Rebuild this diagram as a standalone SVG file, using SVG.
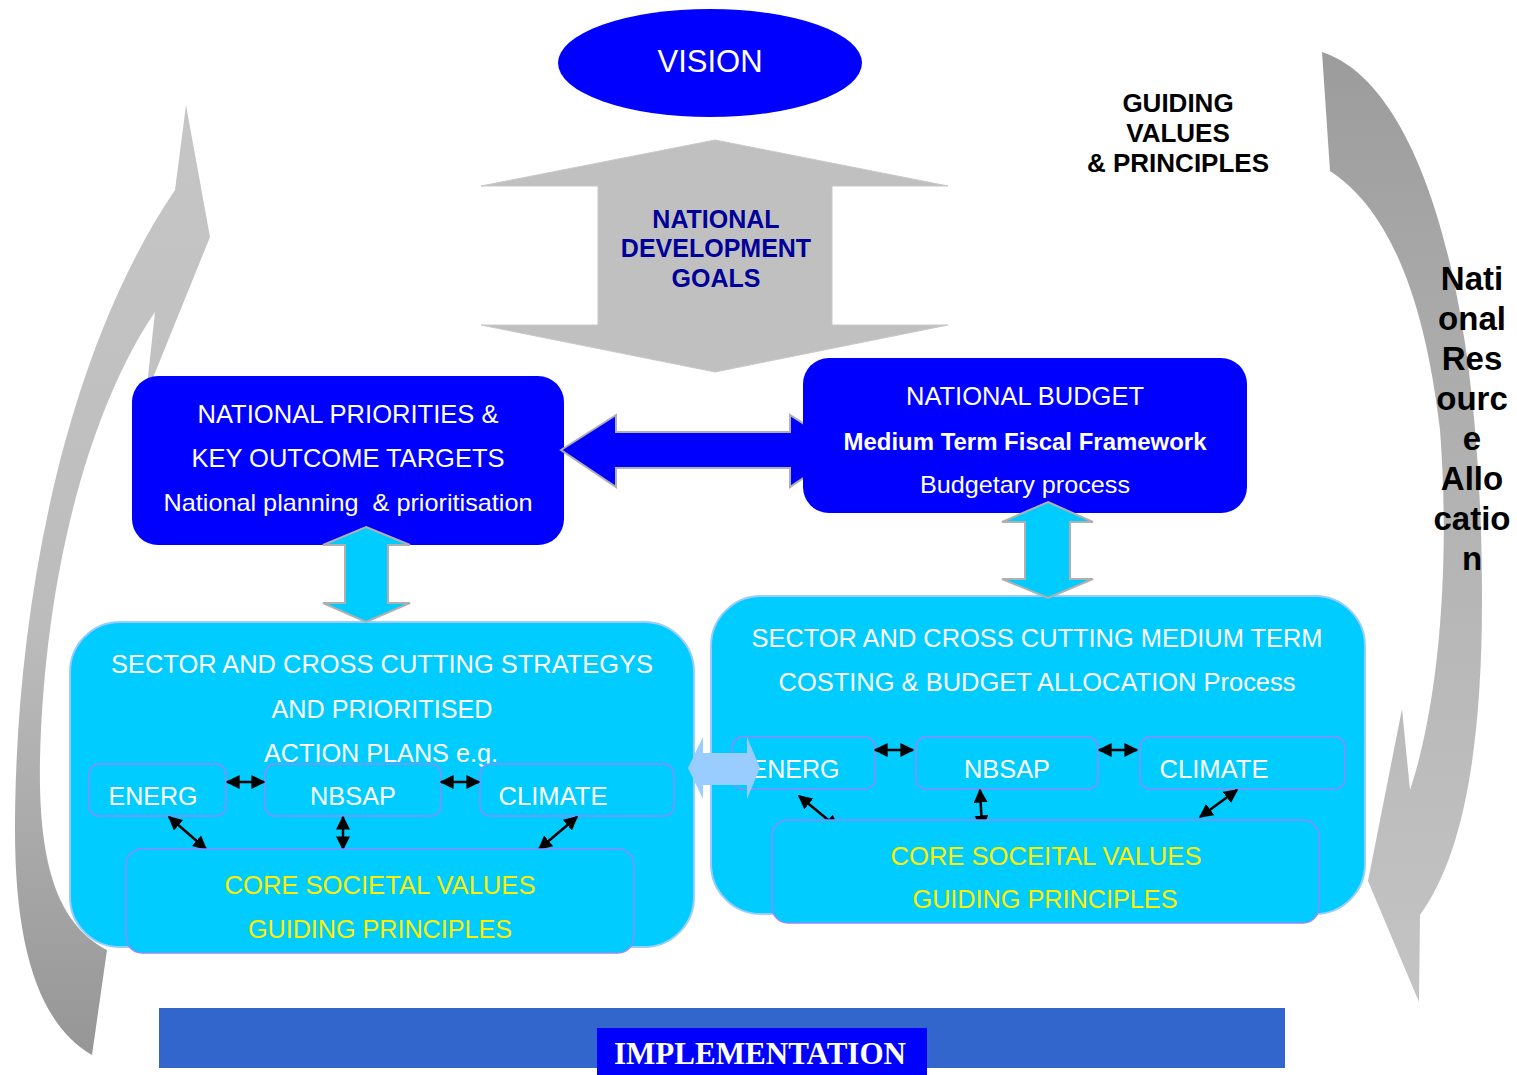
<svg xmlns="http://www.w3.org/2000/svg" width="1517" height="1075" viewBox="0 0 1517 1075">
<style>
.sans{font-family:"Liberation Sans",Arial,sans-serif}
.wt{fill:#ffffff}
.yl{fill:#ffee00}
.cyan{fill:#00ccff;stroke:#99ccff;stroke-width:2}
.sub{fill:#00ccff;stroke:#8c8cff;stroke-width:1.5}
.bigarrow{stroke:#b0b0b0;stroke-width:2}
.conn{stroke:#000000;stroke-width:2.5;fill:none;marker-start:url(#ah);marker-end:url(#ah)}
</style>
<defs>
<marker id="ah" viewBox="0 0 10 10" refX="9" refY="5" markerWidth="14" markerHeight="14" markerUnits="userSpaceOnUse" orient="auto-start-reverse">
<path d="M0,0 L10,5 L0,10 z" fill="#000000"/>
</marker>
<linearGradient id="gl" x1="0" y1="0" x2="0" y2="1">
<stop offset="0" stop-color="#c6c6c6"/>
<stop offset="0.55" stop-color="#bcbcbc"/>
<stop offset="1" stop-color="#969696"/>
</linearGradient>
<linearGradient id="gr" x1="0" y1="0" x2="0" y2="1">
<stop offset="0" stop-color="#9c9c9c"/>
<stop offset="0.5" stop-color="#b4b4b4"/>
<stop offset="1" stop-color="#c4c4c4"/>
</linearGradient>
<clipPath id="clipH">
<rect x="540" y="400" width="263" height="100"/>
</clipPath>
</defs>
<rect width="1517" height="1075" fill="#ffffff"/>

<g id="left-cycle-arrow">
<path d="M92,1055 C40,1025 15,950 15,830 C15,620 60,360 175,190 L186,105 L210,237 L146,395 L155,312 C95,400 45,560 40,760 C38,870 60,925 107,950 Z" fill="url(#gl)"/>
</g>
<g id="right-cycle-arrow">
<path d="M1322,52 C1410,80 1482,260 1482,600 C1482,760 1460,860 1420,915 L1419,1002 L1368,881 L1402,709 L1410,790 C1440,700 1450,560 1440,430 C1425,300 1390,210 1330,171 Z" fill="url(#gr)"/>
<g class="sans" font-weight="bold" font-size="33" text-anchor="middle" fill="#000000">
<text x="1472" y="290">Nati</text>
<text x="1472" y="330">onal</text>
<text x="1472" y="370">Res</text>
<text x="1472" y="410">ourc</text>
<text x="1472" y="450">e</text>
<text x="1472" y="490">Allo</text>
<text x="1472" y="530">catio</text>
<text x="1472" y="570">n</text>
</g>
</g>

<g id="guiding-values" class="sans" font-weight="bold" font-size="26" text-anchor="middle" fill="#000000">
<text x="1178" y="112">GUIDING</text>
<text x="1178" y="142">VALUES</text>
<text x="1178" y="172">&amp; PRINCIPLES</text>
</g>

<g id="vision">
<ellipse cx="710" cy="63" rx="152" ry="54" fill="#0000ff"/>
<text x="710" y="72" class="sans wt" font-size="31" text-anchor="middle">VISION</text>
</g>

<g id="national-development-goals">
<polygon points="715,140 948,186 832,186 832,325 948,325 715,372 481,325 598,325 598,186 481,186" fill="#c0c0c0" stroke="#c8c8c8" stroke-width="1"/>
<g class="sans" font-weight="bold" font-size="25" text-anchor="middle" fill="#000099">
<text x="716" y="228">NATIONAL</text>
<text x="716" y="257">DEVELOPMENT</text>
<text x="716" y="287">GOALS</text>
</g>
</g>

<g id="national-priorities">
<rect x="132" y="376" width="432" height="169" rx="26" fill="#0000ff"/>
<g class="sans wt" text-anchor="middle">
<text x="348" y="423" font-size="25" textLength="301" lengthAdjust="spacingAndGlyphs">NATIONAL PRIORITIES &amp;</text>
<text x="348" y="467" font-size="25" textLength="313" lengthAdjust="spacingAndGlyphs">KEY OUTCOME TARGETS</text>
<text x="348" y="511" font-size="24" textLength="369" lengthAdjust="spacingAndGlyphs" xml:space="preserve">National planning  &amp; prioritisation</text>
</g>
</g>

<g id="national-budget">
<rect x="803" y="358" width="444" height="155" rx="26" fill="#0000ff"/>
<g class="sans wt" text-anchor="middle">
<text x="1025" y="405" font-size="25" textLength="238" lengthAdjust="spacingAndGlyphs">NATIONAL BUDGET</text>
<text x="1025" y="450" font-size="24" font-weight="bold" textLength="363" lengthAdjust="spacingAndGlyphs">Medium Term Fiscal Framework</text>
<text x="1025" y="493" font-size="24" textLength="210" lengthAdjust="spacingAndGlyphs">Budgetary process</text>
</g>
</g>

<g id="sector-strategies">
<rect class="cyan" x="70" y="622" width="624" height="325" rx="50"/>
<g class="sans wt" text-anchor="middle" font-size="25">
<text x="382" y="673" textLength="542" lengthAdjust="spacingAndGlyphs">SECTOR AND CROSS CUTTING STRATEGYS</text>
<text x="382" y="718" textLength="221" lengthAdjust="spacingAndGlyphs">AND PRIORITISED</text>
<text x="381" y="762" textLength="234" lengthAdjust="spacingAndGlyphs">ACTION PLANS e.g.</text>
</g>
</g>
<g id="left-energ">
<rect class="sub" x="89" y="764" width="137" height="52" rx="10"/>
<text x="153" y="805" class="sans wt" font-size="25" text-anchor="middle" textLength="89" lengthAdjust="spacingAndGlyphs">ENERG</text>
</g>
<g id="left-nbsap">
<rect class="sub" x="265" y="764" width="176" height="52" rx="10"/>
<text x="353" y="805" class="sans wt" font-size="25" text-anchor="middle" textLength="86" lengthAdjust="spacingAndGlyphs">NBSAP</text>
</g>
<g id="left-climate">
<rect class="sub" x="480" y="764" width="194" height="52" rx="10"/>
<text x="553" y="805" class="sans wt" font-size="25" text-anchor="middle" textLength="109" lengthAdjust="spacingAndGlyphs">CLIMATE</text>
</g>

<g id="sector-costing">
<rect class="cyan" x="711" y="596" width="654" height="318" rx="50"/>
<g class="sans wt" text-anchor="middle" font-size="25">
<text x="1037" y="647" textLength="571" lengthAdjust="spacingAndGlyphs">SECTOR AND CROSS CUTTING MEDIUM TERM</text>
<text x="1037" y="691" textLength="517" lengthAdjust="spacingAndGlyphs">COSTING &amp; BUDGET ALLOCATION Process</text>
</g>
</g>
<g id="right-energ">
<rect class="sub" x="732" y="737" width="143" height="52" rx="10"/>
<text x="795" y="778" class="sans wt" font-size="25" text-anchor="middle" textLength="89" lengthAdjust="spacingAndGlyphs">ENERG</text>
</g>
<g id="right-nbsap">
<rect class="sub" x="916" y="737" width="182" height="52" rx="10"/>
<text x="1007" y="778" class="sans wt" font-size="25" text-anchor="middle" textLength="86" lengthAdjust="spacingAndGlyphs">NBSAP</text>
</g>
<g id="right-climate">
<rect class="sub" x="1140" y="737" width="205" height="52" rx="10"/>
<text x="1214" y="778" class="sans wt" font-size="25" text-anchor="middle" textLength="109" lengthAdjust="spacingAndGlyphs">CLIMATE</text>
</g>

<g id="connectors">
<polygon class="bigarrow" clip-path="url(#clipH)" points="561,450 616,415 616,432 790,432 790,415 845,450 790,487 790,468 616,468 616,487" fill="#0000ff"/>
<polygon class="bigarrow" points="366,527 410,545 388,545 388,603 410,603 366,622 323,603 345,603 345,545 323,545" fill="#00ccff"/>
<polygon class="bigarrow" points="1048,502 1093,522 1070,522 1070,579 1093,579 1048,598 1002,579 1025,579 1025,522 1002,522" fill="#00ccff"/>
<line class="conn" x1="227" y1="782" x2="264" y2="782"/>
<line class="conn" x1="441" y1="782" x2="479" y2="782"/>
<line class="conn" x1="169" y1="817" x2="206" y2="849"/>
<line class="conn" x1="343" y1="817" x2="343" y2="849"/>
<line class="conn" x1="577" y1="817" x2="539" y2="849"/>
<line class="conn" x1="875" y1="750" x2="913" y2="750"/>
<line class="conn" x1="1099" y1="750" x2="1137" y2="750"/>
<line class="conn" x1="799" y1="796" x2="838" y2="828"/>
<line class="conn" x1="980" y1="790" x2="982" y2="828"/>
<line class="conn" x1="1237" y1="790" x2="1200" y2="817"/>
<polygon points="688,768 703,737 703,753 747,753 747,737 760,768 747,799 747,785 703,785 703,799" fill="#99ccff"/>
</g>

<g id="left-core">
<rect class="sub" x="126" y="849" width="508" height="104" rx="16"/>
<g class="sans yl" text-anchor="middle" font-size="25">
<text x="380" y="894" textLength="311" lengthAdjust="spacingAndGlyphs">CORE SOCIETAL VALUES</text>
<text x="380" y="938" textLength="264" lengthAdjust="spacingAndGlyphs">GUIDING PRINCIPLES</text>
</g>
</g>
<g id="right-core">
<rect class="sub" x="772" y="820" width="547" height="103" rx="16"/>
<g class="sans yl" text-anchor="middle" font-size="25">
<text x="1046" y="865" textLength="311" lengthAdjust="spacingAndGlyphs">CORE SOCEITAL VALUES</text>
<text x="1045" y="908" textLength="265" lengthAdjust="spacingAndGlyphs">GUIDING PRINCIPLES</text>
</g>
</g>

<g id="implementation">
<rect x="159" y="1008" width="1126" height="60" fill="#3366cc"/>
<rect x="597" y="1028" width="330" height="47" fill="#0000ff"/>
<text x="760" y="1064" font-family="'Liberation Serif','Times New Roman',serif" font-weight="bold" font-size="31" fill="#ffffff" text-anchor="middle" textLength="292" lengthAdjust="spacingAndGlyphs">IMPLEMENTATION</text>
</g>
</svg>
